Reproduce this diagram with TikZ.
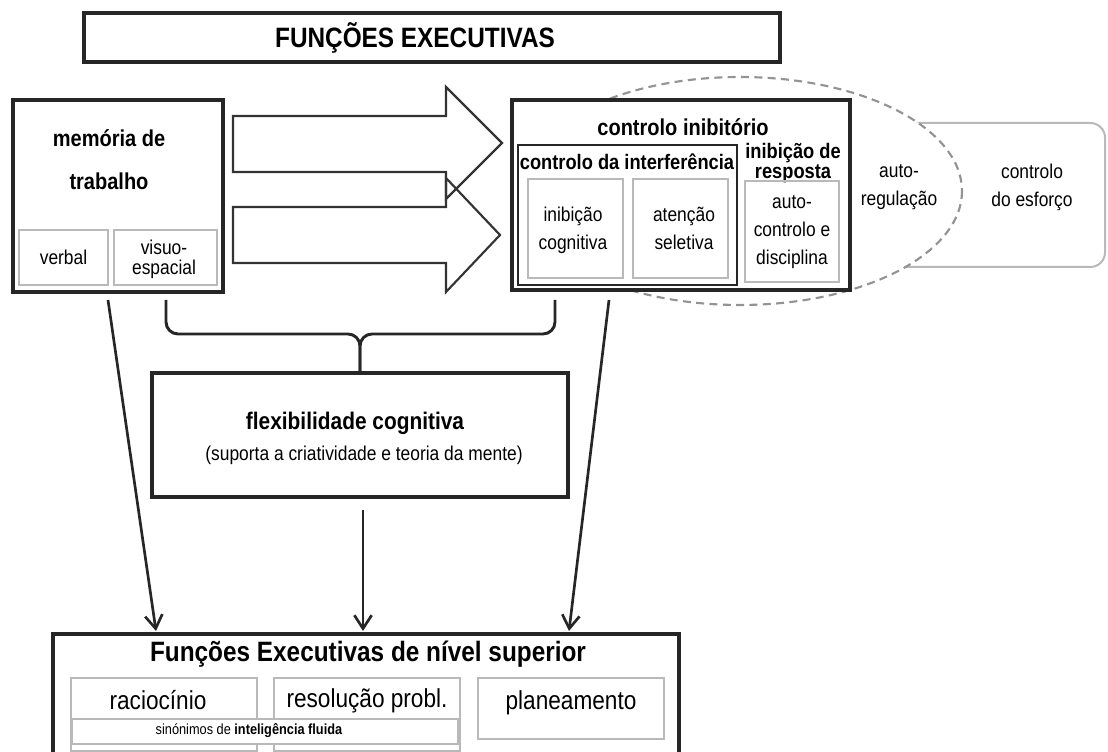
\documentclass[tikz,border=0pt]{standalone}
\usepackage{fontspec}
\setmainfont{Liberation Sans}[FakeStretch=0.87]
\usetikzlibrary{arrows.meta,fit}

\begin{document}
\begin{tikzpicture}[x=0.75pt, y=-0.75pt,
		bigbox/.style={draw=black!85, line width=2.6pt, inner sep=0pt},
		innerbox/.style={draw=black!85, line width=1.8pt, inner sep=0pt},
		subbox/.style={draw=gray!55, line width=0.9pt, inner sep=0pt},
		plain/.style={align=center, inner sep=0pt, font=\fontsize{15}{21}\selectfont},
		heavy/.style={align=center, inner sep=0pt, font=\bfseries\fontsize{17.25}{22}\selectfont},
		link/.style={-{Straight Barb[length=10pt,width=13pt,line width=2pt]}, line width=2pt, black!85},
		bigarrow/.style={line width=1.6pt, black!80, line join=miter}]
		\useasboundingbox (0,0) rectangle (1108,752);
		
		% Title
		\node[bigbox, fit={(84,13) (780,62)}] (title) {};
		\node[heavy, font=\bfseries\fontsize{21}{25}\selectfont] (titletext) at (415,38) {FUNÇÕES EXECUTIVAS};
		
		% Working memory
		\node[bigbox, fit={(13,100) (223,292)}] (memoria) {};
		\node[heavy, font=\bfseries\fontsize{17.25}{32.25}\selectfont] (memtext) at (109,160) {memória de\\trabalho};
		\node[subbox, fit={(19,230) (108,285)}] (verbal) {};
		\node[plain] at (verbal.center) {verbal};
		\node[subbox, fit={(114,230) (217,285)}] (visuo) {};
		\node[plain, font=\fontsize{15}{15}\selectfont] at (164,259) {visuo-\\espacial};
		
		% Big arrows
		\draw[bigarrow] (233,116) -- (446,116) -- (446,87) -- (502,143) -- (446,199) -- (446,172) -- (233,172) -- cycle;
		\draw[bigarrow] (233,207) -- (446,207) -- (446,178) -- (500,235) -- (446,292) -- (446,263) -- (233,263) -- cycle;
		
		% Effortful control and self-regulation
		\node[draw=gray!55, line width=1.5pt, rounded corners=11pt, inner sep=0pt, fit={(860,123) (1105,267)}] (esforco) {};
		\draw[draw=gray!85, line width=1.6pt, dash pattern=on 6pt off 4pt, fill=white] (740,191) ellipse [x radius=222, y radius=114];
		\node[plain] (autoreg) at (899,187) {auto-\\regulação};
		\node[plain] (esforcotext) at (1032,187) {controlo\\do esforço};
		
		% Inhibitory control
		\node[bigbox, fill=white, fit={(512,100) (850,290)}] (inibitorio) {};
		\node[heavy] (initext) at (683,127) {controlo inibitório};
		\node[innerbox, fit={(518,145) (737,285)}] (interf) {};
		\node[heavy, font=\bfseries\fontsize{15.75}{20}\selectfont] (interftext) at (627,162) {controlo da interferência};
		\node[subbox, fit={(528,179) (623,278)}] (cognitiva) {};
		\node[plain] at (573,230) {inibição\\cognitiva};
		\node[subbox, fit={(633,179) (728,278)}] (atencao) {};
		\node[plain] at (684,228) {atenção\\seletiva};
		\node[heavy, font=\bfseries\fontsize{15.75}{12}\selectfont] (resposta) at (793,163) {inibição de\\resposta};
		\node[subbox, fit={(745,181) (839,282)}] (disciplina) {};
		\node[plain, font=\fontsize{15}{20.8}\selectfont] at (792,232) {auto-\\controlo e\\disciplina};
		
		% Brace
		\coordinate (brace_l) at (166,300);
		\coordinate (brace_r) at (555,300);
		\coordinate (brace_m) at (360,334);
		\coordinate (brace_t) at (360,371);
		\draw[line width=2.2pt, black!85, rounded corners=9pt] (brace_l) |- (brace_m) -- (brace_t);
		\draw[line width=2.2pt, black!85, rounded corners=9pt] (brace_r) |- (brace_m) -- (brace_t);
		
		% Cognitive flexibility
		\node[bigbox, fit={(152,373) (568,497)}] (flex) {};
		\node[heavy, font=\bfseries\fontsize{18}{22}\selectfont] (flextext) at (355,423) {flexibilidade cognitiva};
		\node[plain] (suporta) at (364,455) {(suporta a criatividade e teoria da mente)};
		
		% Higher-level executive functions
		\node[bigbox, fit={(53,634) (679,775)}] (superior) {};
		\node[heavy, font=\bfseries\fontsize{21}{25}\selectfont] (suptext) at (368,654) {Funções Executivas de nível superior};
		\node[subbox, fit={(71,678) (257,751)}] (raciocinio) {};
		\node[plain, font=\fontsize{19.5}{22}\selectfont, anchor=base] at (158,709) {raciocínio};
		\node[subbox, fit={(274,678) (460,751)}] (resolucao) {};
		\node[plain, font=\fontsize{19.5}{22}\selectfont, anchor=base] at (367,707) {resolução probl.};
		\node[subbox, fit={(478,678) (664,739)}] (planeamento) {};
		\node[plain, font=\fontsize{19.5}{22}\selectfont, anchor=base] at (571,709) {planeamento};
		\node[subbox, fill=white, fit={(72,719) (458,744)}] (sinonimos) {};
		\node[plain, font=\fontsize{11}{13}\selectfont] at (249,731) {sinónimos de \textbf{inteligência fluida}};
		
		% Connectors
		\coordinate (m_out) at (108,300);
		\coordinate (m_in) at (156,631);
		\coordinate (f_out) at (363,510);
		\coordinate (f_in) at (363,631);
		\coordinate (i_out) at (609,300);
		\coordinate (i_in) at (569,631);
		\draw[link] (m_out) -- (m_in);
		\draw[link] (f_out) -- (f_in);
		\draw[link] (i_out) -- (i_in);
	\end{tikzpicture}
\end{document}
